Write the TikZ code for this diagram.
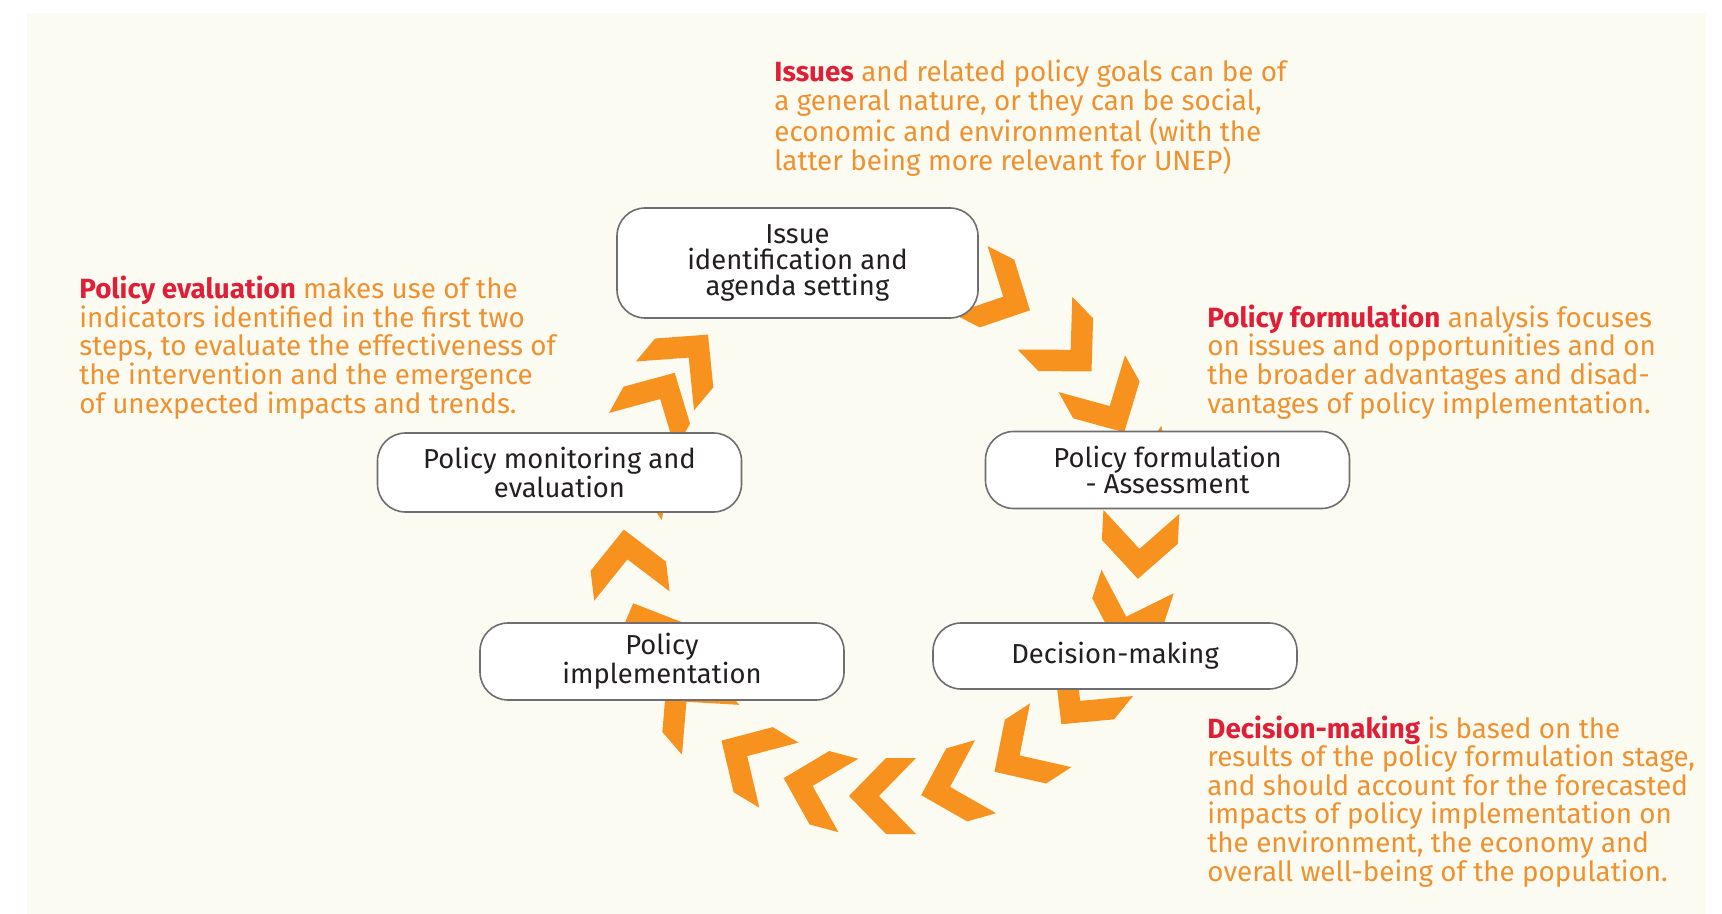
\documentclass[tikz,border=0pt]{standalone}
\usepackage{fontspec}
\setmainfont{Fira Sans}
\usetikzlibrary{calc}

\definecolor{panelbg}{RGB}{252,251,242}
\definecolor{chevorange}{RGB}{247,146,30}
\definecolor{noteorange}{RGB}{240,145,48}
\definecolor{notered}{RGB}{225,30,55}
\definecolor{boxline}{RGB}{110,110,112}
\definecolor{boxtext}{RGB}{35,31,32}

\newcommand{\notehead}[1]{{\color{notered}\bfseries #1}}

\begin{document}
\begin{tikzpicture}[
  x=0.5pt, y=0.5pt,
  stage/.style={draw=boxline, line width=0.8pt, fill=white, rounded corners=14pt,
                align=center, inner sep=0pt, minimum width=182pt, minimum height=38.5pt,
                text=boxtext, font=\fontsize{13.7}{13.2}\selectfont},
  % base anchor of a multi-line note sits on its last line
  note/.style={align=left, inner sep=0pt, anchor=base west, text=noteorange,
               font=\fontsize{13.9}{14.3}\selectfont},
  chev/.style={fill=chevorange},
  chevron/.pic={\fill[chev] (34,0) -- (-3,38) -- (-33,38) -- (4,0) -- (-33,-38) -- (-3,-38) -- cycle;},
]

%% ---------- page and panel ----------
\useasboundingbox (0,0) rectangle (1722,-914);
\fill[white] (0,0) rectangle (1722,-914);
\fill[panelbg] (27,-13) rectangle (1706,-914);

%% ---------- ring of chevrons (clockwise) ----------
\coordinate (ring) at (883,-531);
\foreach \a in {63,44,29,14,-3,-18,-39,-57,-74,-90,-105,-121,-139,-157,-173,169,151,140}
  \pic[rotate=\a-90] at ($(ring)+(\a:257 and 265)$) {chevron};

%% ---------- stages ----------
\node[stage, minimum width=180.5pt, minimum height=55pt] (issue) at (797.5,-263)
  {Issue\\identification and\\agenda setting};
\node[stage] (formul) at (1167.5,-470) {Policy formulation\\- Assessment};
\node[stage, minimum height=33pt] (decide) at (1115,-656) {Decision-making};
\node[stage] (implem) at (662,-661.5) {Policy\\implementation};
\node[stage, minimum height=39.5pt] (monitor) at (559.5,-472.5)
  {Policy monitoring and\\evaluation};

%% ---------- notes ----------
\node[note] (issuenote) at (774,-170.5)
  {\notehead{Issues} and related policy goals can be of\\
   a general nature, or they can be social,\\
   economic and environmental (with the\\
   latter being more relevant for UNEP)};

\node[note] (evalnote) at (79,-413)
  {\notehead{Policy evaluation} makes use of the\\
   indicators identified in the first two\\
   steps, to evaluate the effectiveness of\\
   the intervention and the emergence\\
   of unexpected impacts and trends.};

\node[note] (formulnote) at (1207,-413)
  {\notehead{Policy formulation} analysis focuses\\
   on issues and opportunities and on\\
   the broader advantages and disad-\\
   vantages of policy implementation.};

\node[note] (decidenote) at (1207,-881)
  {\notehead{Decision-making} is based on the\\
   results of the policy formulation stage,\\
   and should account for the forecasted\\
   impacts of policy implementation on\\
   the environment, the economy and\\
   overall well-being of the population.};

\end{tikzpicture}
\end{document}
